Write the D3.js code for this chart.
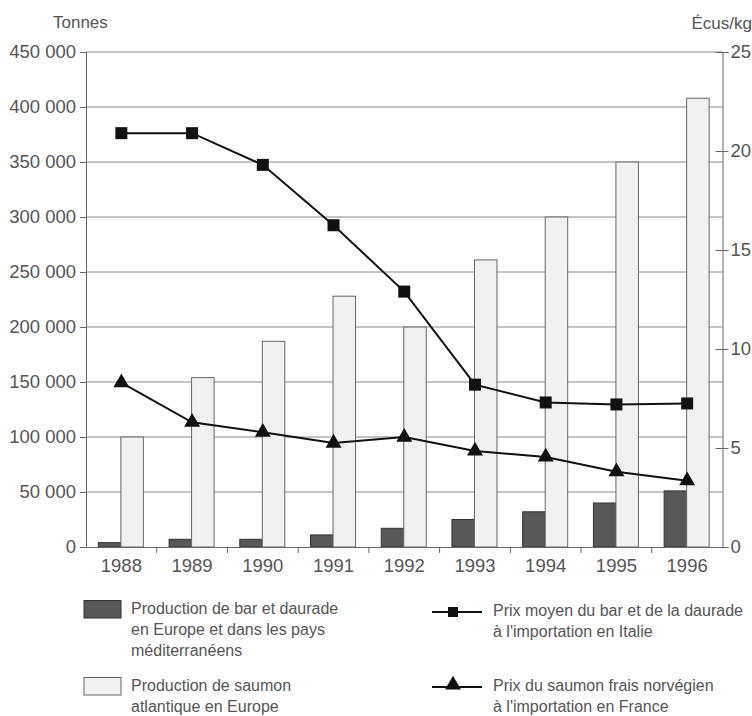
<!DOCTYPE html>
<html lang="fr">
<head>
<meta charset="utf-8">
<script src="https://cdn.jsdelivr.net/npm/d3@7/dist/d3.min.js"></script>
<style>
  html, body { margin: 0; padding: 0; background: #fff; }
  svg { display: block; font-family: "Liberation Sans", Arial, sans-serif; }
  .tick text { fill: #555; }
</style>
</head>
<body>
<svg id="chart" width="752" height="716"></svg>
<script>
// Years on the horizontal axis
const years = ["1988", "1989", "1990", "1991", "1992", "1993", "1994", "1995", "1996"];

// Production in tonnes
const barDaurade = [4000, 7000, 7000, 11000, 17000, 25000, 32000, 40000, 51000];
const saumon = [100000, 154000, 187000, 228000, 200000, 261000, 300000, 350000, 408000];

// Import prices in écus/kg
const prixItalie = [20.9, 20.9, 19.3, 16.25, 12.9, 8.2, 7.3, 7.2, 7.25];
const prixFrance = [8.3, 6.3, 5.8, 5.25, 5.55, 4.85, 4.55, 3.8, 3.35];

// Axis tick values
const leftTicks = [0, 50000, 100000, 150000, 200000, 250000, 300000, 350000, 400000, 450000];
const rightTicks = [0, 5, 10, 15, 20, 25];

// Legend entries
const legendBars = [
  { key: "bar", lines: ["Production de bar et daurade", "en Europe et dans les pays", "méditerranéens"] },
  { key: "saumon", lines: ["Production de saumon", "atlantique en Europe"] }
];
const legendLines = [
  { key: "italie", lines: ["Prix moyen du bar et de la daurade", "à l'importation en Italie"] },
  { key: "france", lines: ["Prix du saumon frais norvégien", "à l'importation en France"] }
];

const svg = d3.select("#chart");
const plotLeft = 86, plotRight = 722.5, plotTop = 52, plotBottom = 547;

const x = d3.scaleBand().domain(years).range([plotLeft, plotRight]).padding(0);
const bw = x.bandwidth();
const xSub = d3.scaleBand().domain(["bar", "saumon"]).range([bw / 2 - 23, bw / 2 + 22]).padding(0);
const yL = d3.scaleLinear().domain([0, 450000]).range([plotBottom, plotTop]);
const yR = d3.scaleLinear().domain([0, 25]).range([plotBottom, plotTop]);

const fmt = v => d3.format(",")(v).replace(/,/g, " ");
const gridColor = "#8a8a8a";
const axisColor = "#666";

// Horizontal gridlines
svg.append("g").selectAll("line").data(leftTicks.filter(d => d > 0)).join("line")
  .attr("x1", plotLeft).attr("x2", plotRight)
  .attr("y1", d => yL(d)).attr("y2", d => yL(d))
  .attr("stroke", gridColor).attr("stroke-width", 1);

// Bars
const colors = { bar: "#585858", saumon: "#f1f1f1" };
const strokes = { bar: "#333", saumon: "#666" };
const barG = svg.append("g");
years.forEach((yr, i) => {
  [["bar", barDaurade[i]], ["saumon", saumon[i]]].forEach(([k, v]) => {
    barG.append("rect")
      .attr("x", x(yr) + xSub(k))
      .attr("y", yL(v))
      .attr("width", xSub.bandwidth())
      .attr("height", yL(0) - yL(v))
      .attr("fill", colors[k])
      .attr("stroke", strokes[k])
      .attr("stroke-width", 1);
  });
});

// Left axis
const axL = svg.append("g").attr("transform", `translate(${plotLeft},0)`)
  .call(d3.axisLeft(yL).tickValues(leftTicks).tickFormat(fmt).tickSize(6).tickPadding(4));
axL.selectAll("text").attr("font-size", 18.5);
axL.selectAll("line, path").attr("stroke", axisColor);

// Right axis
const axR = svg.append("g").attr("transform", `translate(${plotRight},0)`)
  .call(d3.axisRight(yR).tickValues(rightTicks).tickSize(6).tickPadding(2));
axR.selectAll("text").attr("font-size", 18.5);
axR.selectAll("line, path").attr("stroke", axisColor);
axR.selectAll(".tick line").attr("x1", -7);

// Bottom axis with ticks between years
const axB = svg.append("g").attr("transform", `translate(0,${plotBottom})`)
  .call(d3.axisBottom(x).tickSize(0).tickPadding(12));
axB.selectAll("text").attr("font-size", 18.5);
axB.select("path").attr("stroke", axisColor);
axB.selectAll(".sep").data(years.slice(1)).join("line")
  .attr("class", "sep")
  .attr("x1", d => x(d)).attr("x2", d => x(d))
  .attr("y1", 0).attr("y2", 6)
  .attr("stroke", axisColor);

// Axis titles
svg.append("text").attr("x", 53).attr("y", 28).attr("font-size", 17).attr("fill", "#555").text("Tonnes");
svg.append("text").attr("x", 752).attr("y", 29).attr("text-anchor", "end").attr("font-size", 17).attr("fill", "#555").text("Écus/kg");

// Price lines
const cx = yr => x(yr) + bw / 2;
const line = d3.line().x(d => cx(d.year)).y(d => yR(d.v));
const italie = years.map((year, i) => ({ year, v: prixItalie[i] }));
const france = years.map((year, i) => ({ year, v: prixFrance[i] }));

svg.append("path").datum(italie).attr("d", line)
  .attr("fill", "none").attr("stroke", "#111").attr("stroke-width", 2);
svg.append("path").datum(france).attr("d", line)
  .attr("fill", "none").attr("stroke", "#111").attr("stroke-width", 2);

const sq = d3.symbol().type(d3.symbolSquare).size(144);
const tri = d3.symbol().type(d3.symbolTriangle).size(110);

svg.append("g").selectAll("path").data(italie).join("path")
  .attr("transform", d => `translate(${cx(d.year)},${yR(d.v)})`)
  .attr("d", sq).attr("fill", "#111");
svg.append("g").selectAll("path").data(france).join("path")
  .attr("transform", d => `translate(${cx(d.year)},${yR(d.v)})`)
  .attr("d", tri).attr("fill", "#111");

// Legend
const legText = "#555";
const lgB = svg.append("g");
const lbY = [600.5, 677.5];
legendBars.forEach((e, i) => {
  lgB.append("rect").attr("x", 84).attr("y", lbY[i]).attr("width", 37).attr("height", 17.5)
    .attr("fill", colors[e.key]).attr("stroke", strokes[e.key]);
  const t = lgB.append("text").attr("x", 131).attr("y", lbY[i] + 13.5).attr("font-size", 16).attr("fill", legText);
  e.lines.forEach((s, j) => t.append("tspan").attr("x", 131).attr("dy", j ? 20.8 : 0).text(s));
});

const lgL = svg.append("g");
const llY = [612, 687];
legendLines.forEach((e, i) => {
  lgL.append("line").attr("x1", 432).attr("x2", 482).attr("y1", llY[i]).attr("y2", llY[i])
    .attr("stroke", "#111").attr("stroke-width", 2);
  lgL.append("path").attr("transform", `translate(453,${llY[i] - (e.key === "italie" ? 0 : 2)})`)
    .attr("d", e.key === "italie" ? d3.symbol().type(d3.symbolSquare).size(100)() : tri())
    .attr("fill", "#111");
  const t = lgL.append("text").attr("x", 493).attr("y", llY[i] + 4).attr("font-size", 16).attr("fill", legText);
  e.lines.forEach((s, j) => t.append("tspan").attr("x", 493).attr("dy", j ? 20.5 : 0).text(s));
});
</script>
</body>
</html>
